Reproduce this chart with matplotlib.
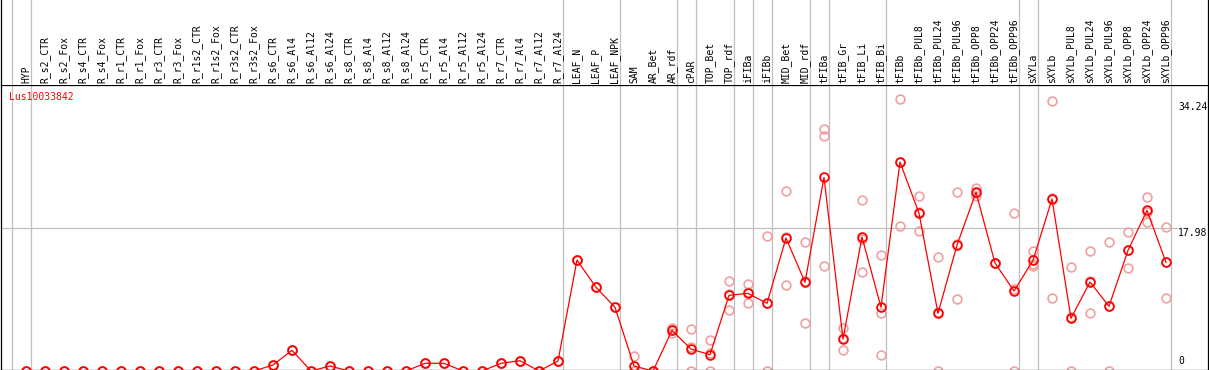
import numpy as np
import matplotlib
matplotlib.use("Agg")
import matplotlib.pyplot as plt
import matplotlib.transforms as mtransforms

gene = "Lus10033842"

samples = ["HYP",
           "R_s2_CTR", "R_s2_Fox", "R_s4_CTR", "R_s4_Fox", "R_r1_CTR", "R_r1_Fox",
           "R_r3_CTR", "R_r3_Fox", "R_r1s2_CTR", "R_r1s2_Fox", "R_r3s2_CTR", "R_r3s2_Fox",
           "R_s6_CTR", "R_s6_Al4", "R_s6_Al12", "R_s6_Al24",
           "R_s8_CTR", "R_s8_Al4", "R_s8_Al12", "R_s8_Al24",
           "R_r5_CTR", "R_r5_Al4", "R_r5_Al12", "R_r5_Al24",
           "R_r7_CTR", "R_r7_Al4", "R_r7_Al12", "R_r7_Al24",
           "LEAF_N", "LEAF_P", "LEAF_NPK",
           "SAM", "AR_Bet", "AR_rdf", "cPAR", "TOP_Bet", "TOP_rdf",
           "iFIBa", "iFIBb", "MID_Bet", "MID_rdf", "tFIBa",
           "tFIB_Gr", "tFIB_Li", "tFIB_Bi",
           "tFIBb", "tFIBb_PUL8", "tFIBb_PUL24", "tFIBb_PUL96",
           "tFIBb_OPP8", "tFIBb_OPP24", "tFIBb_OPP96",
           "sXYLa", "sXYLb", "sXYLb_PUL8", "sXYLb_PUL24", "sXYLb_PUL96",
           "sXYLb_OPP8", "sXYLb_OPP24", "sXYLb_OPP96"]

# mean expression per sample
mean_expr = [0, 0, 0, 0, 0, 0, 0, 0, 0, 0, 0, 0, 0,
             0.76, 2.61, 0, 0.63,
             0, 0, 0, 0,
             0.97, 0.97, 0, 0,
             0.97, 1.30, 0, 1.26,
             13.99, 10.55, 8.03,
             0.63, 0, 5.13, 2.77, 2.05, 9.54,
             9.79, 8.53, 16.76, 11.18, 24.41,
             4.03, 16.89, 8.03,
             26.34, 19.88, 7.27, 15.88,
             22.52, 13.61, 10.08,
             13.95, 21.68, 6.64, 11.22, 8.15,
             15.21, 20.25, 13.70]

# replicate values (three per sample)
rep_a = [0, 0, 0, 0, 0, 0, 0, 0, 0, 0, 0, 0, 0,
         0.76, 2.61, 0, 0.63,
         0, 0, 0, 0,
         0.97, 0.97, 0, 0,
         0.97, 1.30, 0, 1.26,
         13.99, 10.55, 8.03,
         1.89, 0, 5.42, 5.26, 3.87, 11.31,
         10.93, 16.98, 22.65, 16.22, 30.46,
         5.38, 21.52, 14.62,
         34.24, 22.02, 14.33, 22.52,
         23.10, 13.61, 19.88,
         15.12, 34.05, 13.07, 15.09, 16.22,
         17.48, 21.93, 18.11]
rep_b = [0, 0, 0, 0, 0, 0, 0, 0, 0, 0, 0, 0, 0,
         0.76, 2.61, 0, 0.63,
         0, 0, 0, 0,
         0.97, 0.97, 0, 0,
         0.97, 1.30, 0, 1.26,
         13.99, 10.55, 8.03,
         0, 0, 5.13, 0, 0, 7.65,
         8.53, 0, 10.80, 6.01, 29.66,
         2.61, 12.44, 7.35,
         18.24, 17.61, 0, 9.11,
         22.06, 13.61, 0,
         13.23, 9.16, 0, 7.27, 0,
         12.94, 18.74, 9.16]
rep_c = [0, 0, 0, 0, 0, 0, 0, 0, 0, 0, 0, 0, 0,
         0.76, 2.61, 0, 0.63,
         0, 0, 0, 0,
         0.97, 0.97, 0, 0,
         0.97, 1.30, 0, 1.26,
         13.99, 10.55, 8.03,
         0, 0, 4.84, 3.05, 2.30, 9.66,
         9.90, 8.60, 16.83, 11.30, 13.20,
         4.10, 16.70, 1.98,
         26.40, 19.99, 7.48, 16.00,
         22.40, 13.61, 10.36,
         13.50, 21.76, 6.85, 11.30, 8.23,
         15.20, 20.08, 13.80]

# index of the last sample in each group (-1 = left edge line)
group_ends = [-1, 0, 28, 31, 34, 35, 37, 38, 39, 41, 42, 45, 52, 53, 60]
scale_vals = [0, 17.98, 34.24]

W, H = 1209, 370
plt.rcParams['font.family'] = ['DejaVu Sans Mono', 'DejaVu Sans']
fig = plt.figure(figsize=(W / 100, H / 100), dpi=100)


def box(l, t, r, b):
    return [l / W, 1 - b / H, (r - l) / W, (b - t) / H]


ax = fig.add_axes(box(1, 85, 1208, 369.5))
head = fig.add_axes(box(1, 0, 1208, 85), sharex=ax)

x = np.arange(len(samples))
ax.set_xlim((1 - 26) / 19, (1208 - 26) / 19)
ax.set_ylim(0.19, 36.05)

grey = '#c0c0c0'
for g in group_ends:
    ax.axvline(g + 0.24, color=grey, lw=0.9, zorder=1)
    head.axvline(g + 0.24, color=grey, lw=0.9, zorder=1)
ax.axhline(scale_vals[1], xmin=0, xmax=(1177 - 1) / 1207, color=grey, lw=0.9, zorder=1)

pink = '#f0a0a0'
for reps in (rep_a, rep_b, rep_c):
    ax.plot(x, reps, ls='none', marker='o', ms=6.3, mfc='none', mec=pink,
            mew=1.2, clip_on=False, zorder=2)
ax.plot(x, mean_expr, color='red', lw=0.9, marker='o', ms=6.3, mfc='none',
        mec='red', mew=1.3, clip_on=False, zorder=3)

for s in ['top', 'bottom', 'left', 'right']:
    ax.spines[s].set_linewidth(0.9)
    ax.spines[s].set_color('black')
ax.set_xticks([])
ax.set_yticks([])

head.set_ylim(0, 1)
head.spines['top'].set_visible(False)
head.spines['bottom'].set_visible(False)
head.spines['left'].set_linewidth(0.9)
head.spines['right'].set_linewidth(0.9)
head.tick_params(left=False, bottom=False, labelleft=False, labelbottom=False)

ht = mtransforms.blended_transform_factory(head.transData, head.transAxes)
for i, name in enumerate(samples):
    head.text(i, 2 / 85, name, transform=ht, rotation=90, ha='center',
              va='bottom', fontsize=7, color='black')

ax.text(8 / 1207, 1 - 12 / 284.5, gene, transform=ax.transAxes, color='red',
        fontsize=7, va='center', ha='left')

rt = mtransforms.blended_transform_factory(ax.transAxes, ax.transData)
lx = (1178 - 1) / 1207
ax.annotate("%.2f" % scale_vals[2], (lx, scale_vals[2]), xycoords=rt,
            xytext=(0, -3), textcoords='offset pixels', fontsize=7,
            va='top', ha='left')
ax.text(lx, scale_vals[1], "%.2f" % scale_vals[1], transform=rt, fontsize=7,
        va='top', ha='left')
ax.text(lx, 3.5 / 284.5, "%d" % scale_vals[0], transform=ax.transAxes, fontsize=7,
        va='bottom', ha='left')

fig.savefig("out.png", dpi=100)
